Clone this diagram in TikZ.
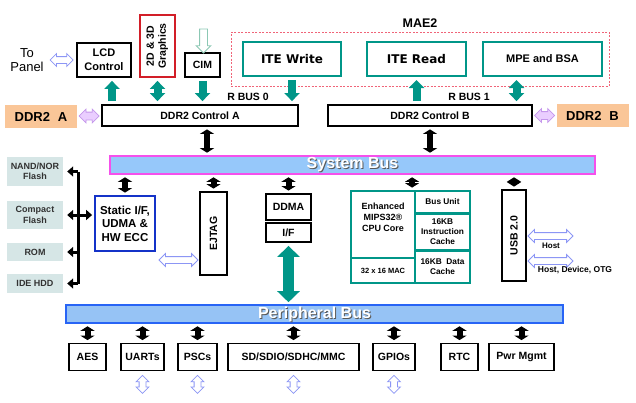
\documentclass[tikz,border=0pt]{standalone}
\usepackage{fontspec}
\setmainfont{Liberation Sans}
\newfontfamily\verdanaish{DejaVu Sans}
\usepackage{graphicx}
\usepackage{tikz}
\usetikzlibrary{arrows.meta,shapes.arrows,positioning,calc}

\definecolor{tealc}{RGB}{0,150,136}
\definecolor{ddrorange}{RGB}{250,198,152}
\definecolor{lavfill}{RGB}{234,206,255}
\definecolor{lavline}{RGB}{196,150,235}
\definecolor{hollowline}{RGB}{140,150,245}
\definecolor{cimline}{RGB}{140,200,180}
\definecolor{sysfill}{RGB}{150,200,250}
\definecolor{sysline}{RGB}{245,80,235}
\definecolor{pfill}{RGB}{150,195,245}
\definecolor{pline}{RGB}{40,100,245}
\definecolor{flashfill}{RGB}{214,230,230}
\definecolor{flashtext}{RGB}{50,50,50}
\definecolor{staticblue}{RGB}{20,50,200}
\definecolor{gfxred}{RGB}{210,30,40}
\definecolor{maedash}{RGB}{240,100,120}

\begin{document}
\begin{tikzpicture}[x=1pt,y=-1pt,
  blk/.style={draw,line width=1.8pt,inner sep=0pt,align=center,
    font=\bfseries\fontsize{10.5}{12}\selectfont},
  maebox/.style={draw=tealc,line width=2pt,inner sep=0pt,minimum height=34pt},
  cell/.style={draw=tealc,line width=1.8pt,inner sep=0pt,align=center,
    font=\bfseries\fontsize{8.3}{10}\selectfont},
  ddr/.style={fill=ddrorange,minimum width=72pt,minimum height=23pt,
    font=\bfseries\fontsize{13}{14}\selectfont},
  flash/.style={fill=flashfill,minimum width=56pt,inner sep=0pt,align=center,
    text=flashtext,font=\bfseries\fontsize{9}{10.5}\selectfont},
  bustxt/.style={font=\bfseries\fontsize{16}{16}\selectfont},
  busarr/.style={line width=6pt,shorten <=2.5pt,shorten >=2.5pt,
    {Triangle[width=14pt,length=4.5pt]}-{Triangle[width=14pt,length=4.5pt]}},
  tealarr/.style={draw=tealc,line width=8pt,shorten <=3pt,shorten >=3pt},
  ttip/.tip={Triangle[width=15pt,length=8pt]},
  flasharr/.style={line width=3pt,shorten >=4pt},
  ftip/.tip={Triangle[width=10pt,length=6pt]},
  harrow/.style={double arrow,draw=hollowline,fill=white,line width=0.8pt,
    inner sep=3pt,double arrow head extend=3pt},
  larrow/.style={double arrow,draw=lavline,fill=lavfill,line width=0.8pt,
    inner sep=3.5pt,double arrow head extend=3pt}]

  \useasboundingbox (0,0) rectangle (636,402);

  % top row
  \node[font=\fontsize{13}{14}\selectfont,align=center] (panel) at (27,60) {To\\Panel};
  \node[blk,minimum width=54pt,minimum height=34pt,font=\bfseries\fontsize{11}{14}\selectfont] (lcd) at (104,60) {LCD\\Control};
  \node[blk,draw=gfxred,minimum width=35pt,minimum height=62pt,font=\bfseries\fontsize{10.5}{12}\selectfont] (gfx) at (157.5,46)
    {\rotatebox{90}{\begin{tabular}{@{}c@{}}2D \& 3D\\Graphics\end{tabular}}};
  \node[blk,minimum width=35pt,minimum height=24pt] (cim) at (202.5,65) {CIM};
  \node[single arrow,shape border rotate=270,draw=cimline,fill=white,line width=0.8pt,
    inner sep=3.5pt,single arrow head extend=3.5pt,minimum height=24pt] (camin) at ([xshift=1pt,yshift=13pt]cim.north) {};

  \node[draw=maedash,line width=1pt,dash pattern=on 2pt off 1.5pt,minimum width=378pt,minimum height=54pt] (mae) at (420,59) {};
  \node[font=\bfseries\fontsize{12.5}{14}\selectfont] (maelbl) at (420,23) {MAE2};
  \node[maebox,minimum width=98pt,font=\verdanaish\bfseries\fontsize{12}{14}\selectfont] (itew) at (292,59) {ITE Write};
  \node[maebox,minimum width=99pt,font=\verdanaish\bfseries\fontsize{12}{14}\selectfont] (iter) at (416.5,59) {ITE Read};
  \node[maebox,minimum width=119pt,font=\bfseries\fontsize{11}{14}\selectfont] (mpe) at (542.5,59) {MPE and BSA};

  % memory controllers
  \node[ddr] (ddra) at (41,116.5) {DDR2\hspace{0.6em}A};
  \node[blk,minimum width=196pt,minimum height=21pt] (ctla) at (200,115.5) {DDR2 Control A};
  \node[blk,minimum width=204pt,minimum height=21pt] (ctlb) at (430,115.5) {DDR2 Control B};
  \node[ddr] (ddrb) at (592.5,115.5) {DDR2\hspace{0.6em}B};
  \node[font=\bfseries\fontsize{10.5}{12}\selectfont] (rbus0) at (248,97) {R BUS 0};
  \node[font=\bfseries\fontsize{10.5}{12}\selectfont] (rbus1) at (469,97) {R BUS 1};

  \node[harrow,minimum height=23pt] (panelio) at ($(panel.east)!0.5!(lcd.west)$) {};
  \node[larrow,minimum height=20pt] (ddraio) at ($(ddra.east)!0.5!(ctla.west)$) {};
  \node[larrow,minimum height=20pt] (ddrbio) at ($(ctlb.east)!0.5!(ddrb.west)$) {};

  \draw[tealarr,-ttip] ([xshift=8pt]lcd.south |- ctla.north) -- ([xshift=8pt]lcd.south);
  \draw[tealarr,ttip-ttip] (gfx.south) -- (gfx.south |- ctla.north);
  \draw[tealarr,-ttip] (cim.south) -- (cim.south |- ctla.north);
  \draw[tealarr,-ttip] (itew.south) -- (itew.south |- ctla.north);
  \draw[tealarr,-ttip] (iter.south |- ctlb.north) -- (iter.south);
  \draw[tealarr,ttip-ttip] ([xshift=-26pt]mpe.south) -- ([xshift=-26pt]mpe.south |- ctlb.north);

  % system bus
  \node[draw=sysline,fill=sysfill,line width=1.6pt,minimum width=485pt,minimum height=18pt,inner sep=0pt] (sysbus) at (352.5,165) {};
  \node[bustxt,text=black!65] at ([shift={(1pt,-1pt)}]sysbus.center) {System Bus};
  \node[bustxt,text=white] at (sysbus.center) {System Bus};

  \draw[busarr] ([xshift=7pt]ctla.south) -- ([xshift=7pt]ctla.south |- sysbus.north);
  \draw[busarr] (ctlb.south) -- (ctlb.south |- sysbus.north);

  % flash side
  \node[flash,minimum height=29pt] (nand) at (35,171.5) {NAND/NOR\\Flash};
  \node[flash,minimum height=28pt] (cf) at (35,215) {Compact\\Flash};
  \node[flash,minimum height=18pt] (rom) at (35,252) {ROM};
  \node[flash,minimum height=19pt] (ide) at (35,283.5) {IDE HDD};
  \node[blk,draw=staticblue,minimum width=60pt,minimum height=55pt,font=\bfseries\fontsize{11.5}{13.5}\selectfont] (stat) at (125,223.5) {Static I/F,\\UDMA \&\\HW ECC};

  \coordinate (lbus) at (78,0);
  \draw[line width=3pt] (nand.east -| lbus) -- (ide.east -| lbus);
  \foreach \n in {nand,rom,ide}
    \draw[flasharr,-ftip] (\n.east -| lbus) -- (\n.east);
  \draw[flasharr,shorten <=4pt,shorten >=2pt,ftip-ftip] (cf.east) -- (cf.east -| stat.west);

  \node[blk,minimum width=27pt,minimum height=83pt] (ejtag) at (213.5,233.5) {\rotatebox{90}{EJTAG}};
  \node[harrow,minimum height=39pt] (jtagio) at (178.5,260) {};
  \node[blk,minimum width=45pt,minimum height=26pt] (ddma) at (288.5,207) {DDMA};
  \node[blk,minimum width=45pt,minimum height=19pt] (iff) at (288.5,232.5) {I/F};

  % cpu
  \node[cell,minimum width=64pt,minimum height=67pt,font=\bfseries\fontsize{9}{11}\selectfont] (core) at (383,224.5) {Enhanced\\MIPS32®\\CPU Core\\[4pt]};
  \node[cell,minimum width=64pt,minimum height=25pt,font=\bfseries\fontsize{7.5}{9}\selectfont] (mac) at (383,270.5) {32 x 16 MAC};
  \node[cell,minimum width=55pt,minimum height=22pt] (busu) at (442.5,202) {Bus Unit};
  \node[cell,minimum width=55pt,minimum height=36pt] (icache) at (442.5,232) {16KB\\Instruction\\Cache};
  \node[cell,minimum width=55pt,minimum height=32pt] (dcache) at (442.5,267) {16KB\ \ Data\\Cache};

  \node[blk,minimum width=24pt,minimum height=91pt] (usb) at (514,235.5) {\rotatebox{90}{USB 2.0}};
  \node[harrow,minimum height=45pt] (host1) at (550.5,236) {};
  \node[harrow,minimum height=45pt] (host2) at (550.5,261) {};
  \node[font=\bfseries\fontsize{8}{9}\selectfont] (hostlbl) at (551,246) {Host};
  \node[font=\bfseries\fontsize{8.5}{9}\selectfont] (otglbl) at (575,270) {Host, Device, OTG};

  \draw[busarr] (stat.north |- sysbus.south) -- (stat.north);
  \draw[busarr] (ejtag.north |- sysbus.south) -- (ejtag.north);
  \draw[busarr] (ddma.north |- sysbus.south) -- (ddma.north);
  \draw[busarr] ([xshift=-2pt]busu.north west |- sysbus.south) -- ([xshift=-2pt]busu.north west);
  \draw[busarr] (usb.north |- sysbus.south) -- (usb.north);

  % peripheral bus
  \node[draw=pline,fill=pfill,line width=1.6pt,minimum width=497pt,minimum height=18pt,inner sep=0pt] (pbus) at (314.5,314) {};
  \node[bustxt,text=black!65] at ([shift={(1pt,-1pt)}]pbus.center) {Peripheral Bus};
  \node[bustxt,text=white] at (pbus.center) {Peripheral Bus};

  \draw[draw=tealc,line width=11pt,shorten <=3pt,shorten >=2pt,
    {Triangle[width=22pt,length=11pt]}-{Triangle[width=22pt,length=11pt]}] (iff.south) -- (iff.south |- pbus.north);

  \node[blk,minimum width=37pt,minimum height=27pt] (aes) at (87.5,357) {AES};
  \node[blk,minimum width=43pt,minimum height=27pt] (uart) at (142.5,357) {UARTs};
  \node[blk,minimum width=39pt,minimum height=27pt] (psc) at (197.5,357) {PSCs};
  \node[blk,minimum width=131pt,minimum height=27pt] (sd) at (293.5,357) {SD/SDIO/SDHC/MMC};
  \node[blk,minimum width=42pt,minimum height=27pt] (gpio) at (394,357) {GPIOs};
  \node[blk,minimum width=37pt,minimum height=27pt] (rtc) at (459.5,357) {RTC};
  \node[blk,minimum width=65pt,minimum height=27pt] (pwr) at (521.5,357) {Pwr Mgmt};

  \foreach \n in {aes,uart,psc,sd,gpio,rtc,pwr}
    \draw[busarr] (pbus.south -| \n.north) -- (\n.north);
  \foreach \n in {uart,psc,sd,gpio}
    \node[harrow,shape border rotate=90,minimum height=18pt] at ([yshift=-13pt]\n.south) {};

\end{tikzpicture}
\end{document}
